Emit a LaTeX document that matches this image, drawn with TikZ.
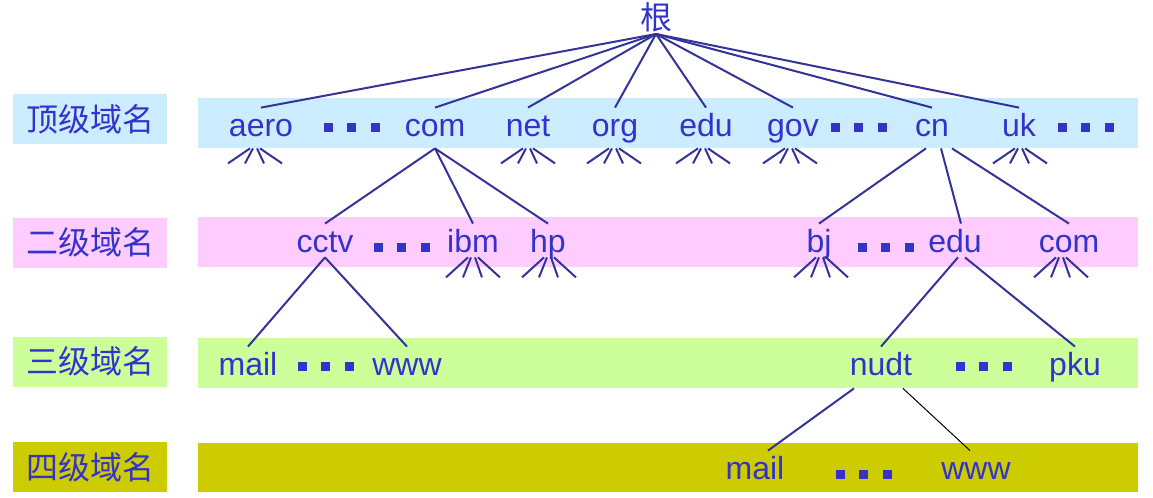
\documentclass[tikz,border=0pt]{standalone}
\usepackage{fontspec}
\setmainfont{Liberation Sans}
\newfontfamily\cjk{Noto Sans CJK SC}
\definecolor{bandblue}{RGB}{204,236,255}
\definecolor{bandpink}{RGB}{255,204,255}
\definecolor{bandgreen}{RGB}{204,255,153}
\definecolor{bandolive}{RGB}{204,204,0}
\definecolor{inkblue}{RGB}{51,51,204}
\definecolor{linkblue}{RGB}{51,51,153}
%three squares, first one centred at (#1,#2)
\newcommand{\ellip}[2]{
	\foreach \k in {0,1,2}
		\fill[inkblue] ({#1+23.5*\k-4.5},{#2-4.5}) rectangle ++(9,9);
}
%small fan of four lines under a node: node, x offset, length
\newcommand{\fan}[3]{
	\foreach \a/\b in {-5/-27,-2/-10,2/9,5/27}
		\draw[link] ([shift={({#2+\a},0)}]#1.south) -- ++({\b-\a},#3);
}

\begin{document}
\begin{tikzpicture}[x=0.5pt, y=-0.5pt,
	word/.style={font=\fontsize{16pt}{19pt}\selectfont, text=inkblue, anchor=base, inner sep=0pt, text height=14pt, text depth=6pt},
	second/.style={word, text depth=2.5pt},
	third/.style={word, text depth=6.5pt},
	level/.style={font=\cjk\fontsize{16pt}{19pt}\selectfont, text=inkblue, minimum width=77pt, minimum height=25pt, inner sep=0pt},
	link/.style={draw=linkblue, line width=1pt}]
	\useasboundingbox (0,0) rectangle (1153,498);
	
	%level bands
	\fill[bandblue] (198,98) rectangle (1138,148);
	\fill[bandpink] (198,217) rectangle (1138,267);
	\fill[bandgreen] (198,338) rectangle (1138,388);
	\fill[bandolive] (198,443) rectangle (1138,492);
	
	%level names
	\node[level, fill=bandblue] (lvlone) at (90,119) {顶级域名};
	\node[level, fill=bandpink] (lvltwo) at (90,242.5) {二级域名};
	\node[level, fill=bandgreen] (lvlthree) at (90,361.5) {三级域名};
	\node[level, fill=bandolive] (lvlfour) at (90,467) {四级域名};
	
	%root
	\node[font=\cjk\fontsize{16pt}{19pt}\selectfont, text=inkblue, anchor=south, inner sep=1pt] (root) at (656,34) {根};
	
	%top level domains
	\node[word] (aero) at (261,136) {aero};
	\node[word] (com) at (435,136) {com};
	\node[word] (net) at (528,136) {net};
	\node[word] (org) at (615,136) {org};
	\node[word] (edu) at (706,136) {edu};
	\node[word] (gov) at (793,136) {gov};
	\node[word] (cn) at (932,136) {cn};
	\node[word] (uk) at (1019,136) {uk};
	\ellip{328}{127}
	\ellip{835}{127}
	\ellip{1062}{127}
	
	%second level
	\node[second] (cctv) at (325,252) {cctv};
	\node[second] (ibm) at (473,252) {ibm};
	\node[second] (hp) at (548,252) {hp};
	\node[second] (bj) at (819,252) {bj};
	\node[second] (cnedu) at (955,252) {edu};
	\node[second] (cncom) at (1069,252) {com};
	\ellip{378}{247}
	\ellip{862}{247}
	
	%third level
	\node[third] (cctvmail) at (248,375) {mail};
	\node[third] (cctvwww) at (407,375) {www};
	\node[third] (nudt) at (881,375) {nudt};
	\node[third] (pku) at (1075,375) {pku};
	\ellip{302}{366}
	\ellip{960}{366}
	
	%fourth level
	\node[word] (nudtmail) at (755,479) {mail};
	\node[word] (nudtwww) at (976,479) {www};
	\ellip{840}{474}
	
	%tree links
	\foreach \n in {aero,com,net,org,edu,gov,cn,uk}
		\draw[link] (root.south) -- (\n.north);
	\foreach \n in {cctv,ibm,hp}
		\draw[link] (com.south) -- (\n.north);
	\draw[link] ([shift={(-6,0)}]cn.south) -- (bj.north);
	\draw[link] ([shift={(9,0)}]cn.south) -- ([shift={(6,0)}]cnedu.north);
	\draw[link] ([shift={(20,0)}]cn.south) -- (cncom.north);
	\foreach \n in {cctvmail,cctvwww}
		\draw[link] (cctv.south) -- (\n.north);
	\draw[link] ([shift={(3,0)}]cnedu.south) -- (nudt.north);
	\draw[link] ([shift={(10,0)}]cnedu.south) -- (pku.north);
	\draw[link] ([shift={(-27,0)}]nudt.south) -- ([shift={(13,0)}]nudtmail.north);
	\draw[black, line width=0.5pt] ([shift={(22,0)}]nudt.south) -- ([shift={(-6,0)}]nudtwww.north);
	
	%unshown subtrees
	\fan{aero}{-6}{15}
	\fan{net}{0}{15}
	\fan{org}{-1}{15}
	\fan{edu}{-3}{15}
	\fan{gov}{-3}{15}
	\fan{uk}{1}{15}
	\fan{ibm}{0}{20}
	\fan{hp}{1}{20}
	\fan{bj}{2}{20}
	\fan{cncom}{-8}{20}
\end{tikzpicture}
\end{document}
